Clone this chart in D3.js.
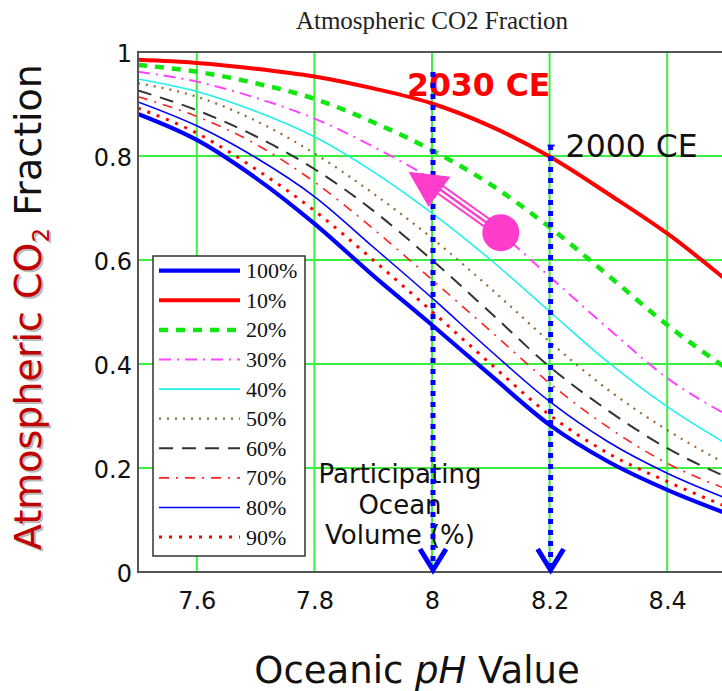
<!DOCTYPE html>
<html><head><meta charset="utf-8">
<script src="https://cdn.jsdelivr.net/npm/d3@7"></script>
<style>body{margin:0;background:#fff}</style>
</head><body><svg id="c" width="722" height="691"></svg>
<script>
// ---- data ----
const pH = [7.5, 7.6, 7.7, 7.8, 7.9, 8.0, 8.1, 8.2, 8.3, 8.4, 8.5];
const v100 = [0.881, 0.831, 0.758, 0.670, 0.570, 0.475, 0.378, 0.283, 0.212, 0.158, 0.113];
const v10  = [0.985, 0.979, 0.968, 0.953, 0.930, 0.901, 0.857, 0.799, 0.727, 0.651, 0.562];
const v20  = [0.975, 0.962, 0.940, 0.910, 0.865, 0.811, 0.745, 0.663, 0.570, 0.475, 0.392];
const v30  = [0.962, 0.943, 0.912, 0.872, 0.818, 0.754, 0.668, 0.568, 0.468, 0.373, 0.303];
const v40  = [0.948, 0.924, 0.886, 0.837, 0.770, 0.690, 0.600, 0.501, 0.403, 0.318, 0.247];
const v50  = [0.940, 0.914, 0.868, 0.805, 0.728, 0.642, 0.545, 0.443, 0.350, 0.273, 0.208];
const v60  = [0.926, 0.888, 0.838, 0.775, 0.695, 0.600, 0.498, 0.395, 0.310, 0.238, 0.183];
const v70  = [0.914, 0.876, 0.823, 0.750, 0.660, 0.562, 0.463, 0.363, 0.278, 0.209, 0.160];
const v80  = [0.904, 0.858, 0.797, 0.722, 0.625, 0.527, 0.425, 0.328, 0.250, 0.190, 0.142];
const v90  = [0.892, 0.844, 0.775, 0.695, 0.600, 0.501, 0.400, 0.302, 0.228, 0.174, 0.126];
const seriesNames = ["100%", "10%", "20%", "30%", "40%", "50%", "60%", "70%", "80%", "90%"];
const seriesValues = [v100, v10, v20, v30, v40, v50, v60, v70, v80, v90];
const xTicks = [7.6, 7.8, 8.0, 8.2, 8.4];
const yTicks = [0, 0.2, 0.4, 0.6, 0.8, 1];
const gridY = [0.2, 0.4, 0.6, 0.8];
// annotation anchors (data space)
const yearMarks = [
  {pH: 8.0, top: 0.9615, label: "2030 CE"},
  {pH: 8.2, top: 0.821, label: "2000 CE"}
];
const arrowFrom = [8.117, 0.6525];
const arrowTo = [7.994, 0.7025];
const noteLines = ["Participating", "Ocean", "Volume (%)"];

// ---- styles ----
const styles = {
  "100%": {c: "#0000ff", w: 4.2, d: null},
  "10%":  {c: "#ff0000", w: 4, d: null},
  "20%":  {c: "#11e611", w: 4.5, d: "9,8"},
  "30%":  {c: "#ff44ff", w: 2, d: "12,6,2,6"},
  "40%":  {c: "#22eeee", w: 1.6, d: null},
  "50%":  {c: "#996633", w: 2.2, d: "2,6"},
  "60%":  {c: "#333333", w: 2, d: "14,9"},
  "70%":  {c: "#ff2222", w: 1.6, d: "10,7,2,7"},
  "80%":  {c: "#0000ff", w: 1.6, d: null},
  "90%":  {c: "#ff0000", w: 3, d: "3,7"}
};

const svg = d3.select("#c");
const L = 138, T = 52, B = 572, R = 726;
const x = d3.scaleLinear([7.5, 8.5], [L, R]);
const y = d3.scaleLinear([0, 1], [B, T]);
const sans = "'DejaVu Sans', Verdana, sans-serif";
const serif = "'Liberation Serif', 'Times New Roman', serif";

// title
svg.append("text").attr("x", 432).attr("y", 29).attr("text-anchor", "middle")
  .attr("font-family", serif).attr("font-size", 25).attr("fill", "#222")
  .text("Atmospheric CO2 Fraction");

// clip
svg.append("defs").append("clipPath").attr("id", "clip")
  .append("rect").attr("x", L).attr("y", T).attr("width", R - L).attr("height", B - T);

// grid
const grid = svg.append("g").attr("stroke", "#3df03d").attr("stroke-width", 2);
grid.selectAll("line.v").data(xTicks).join("line").attr("class", "v")
  .attr("x1", d => x(d)).attr("x2", d => x(d)).attr("y1", T).attr("y2", B);
grid.selectAll("line.h").data(gridY).join("line").attr("class", "h")
  .attr("x1", L).attr("x2", R).attr("y1", d => y(d)).attr("y2", d => y(d));

// curves
const line = d3.line().x(d => x(d[0])).y(d => y(d[1])).curve(d3.curveMonotoneX);
const cg = svg.append("g").attr("clip-path", "url(#clip)").attr("fill", "none");
const drawOrder = [9, 8, 7, 6, 5, 4, 3, 2, 1, 0];
drawOrder.forEach(i => {
  const s = styles[seriesNames[i]];
  cg.append("path").datum(pH.map((p, k) => [p, seriesValues[i][k]]))
    .attr("d", line).attr("stroke", s.c).attr("stroke-width", s.w)
    .attr("stroke-dasharray", s.d).attr("stroke-linecap", "butt");
});

// frame
const frame = svg.append("g").attr("stroke", "#555").attr("stroke-width", 2).attr("fill", "none");
frame.append("path").attr("d", `M${R},${T}H${L}V${B}H${R}`);

// axes
const xa = svg.append("g").attr("transform", `translate(0,${B})`)
  .call(d3.axisBottom(x).tickValues(xTicks).tickSize(0).tickPadding(20).tickFormat(d3.format("")));
xa.select(".domain").remove();
xa.selectAll("text").attr("font-family", sans).attr("font-size", 24).attr("fill", "#111");
const ya = svg.append("g").attr("transform", `translate(${L},0)`)
  .call(d3.axisLeft(y).tickValues(yTicks).tickSize(0).tickPadding(6).tickFormat(d3.format("")));
ya.select(".domain").remove();
ya.selectAll("text").attr("font-family", sans).attr("font-size", 24).attr("fill", "#111").attr("dy", "0.4em");

// axis titles
const xt = svg.append("text").attr("x", 417).attr("y", 683).attr("text-anchor", "middle")
  .attr("font-family", sans).attr("font-size", 37).attr("fill", "#111");
xt.append("tspan").text("Oceanic ");
xt.append("tspan").attr("font-style", "italic").text("pH");
xt.append("tspan").text(" Value");

function yTitle(g, shadow) {
  const t = g.append("text").attr("text-anchor", "middle")
    .attr("font-family", sans).attr("font-size", 38);
  const red = shadow ? "#777" : "#c00000";
  t.append("tspan").attr("fill", red).text("Atmospheric CO");
  t.append("tspan").attr("fill", red).attr("font-size", 23).attr("dy", 8).text("2");
  t.append("tspan").attr("fill", shadow ? "none" : "#111").attr("dy", -8).text(" Fraction");
  return t;
}
const ysh = svg.append("g").attr("transform", "translate(43,309) rotate(-90)").attr("opacity", 0.5);
yTitle(ysh, true);
const ytg = svg.append("g").attr("transform", "translate(41,307) rotate(-90)");
yTitle(ytg, false);

// legend
const lg = svg.append("g");
lg.append("rect").attr("x", 153).attr("y", 256).attr("width", 152).attr("height", 300)
  .attr("fill", "#fff").attr("stroke", "#333").attr("stroke-width", 1.5);
seriesNames.forEach((n, i) => {
  const s = styles[n];
  const cy = 270.7 + i * 29.6;
  lg.append("line").attr("x1", 159).attr("x2", 240).attr("y1", cy).attr("y2", cy)
    .attr("stroke", s.c).attr("stroke-width", s.w).attr("stroke-dasharray", s.d);
  lg.append("text").attr("x", 246).attr("y", cy + 7.5).attr("font-family", serif)
    .attr("font-size", 22).attr("fill", "#111").text(n);
});

// note text
const note = svg.append("text").attr("text-anchor", "middle").attr("font-family", sans)
  .attr("font-size", 26).attr("fill", "#111");
noteLines.forEach((t, i) => note.append("tspan").attr("x", 400).attr("y", 483 + i * 30.5).text(t));

// year labels
svg.append("text").attr("x", x(yearMarks[0].pH) - 25).attr("y", y(yearMarks[0].top) + 23.5)
  .attr("font-family", sans).attr("font-weight", "bold").attr("font-size", 31.5)
  .attr("fill", "#ff0000").text(yearMarks[0].label);
svg.append("text").attr("x", x(yearMarks[1].pH) + 16).attr("y", y(yearMarks[1].top) + 11.5)
  .attr("font-family", sans).attr("font-size", 31.5).attr("fill", "#111").text(yearMarks[1].label);

// dotted arrows
yearMarks.forEach(m => {
  const xx = x(m.pH) + 1;
  svg.append("line").attr("x1", xx).attr("x2", xx).attr("y1", y(m.top)).attr("y2", y(0) - 4)
    .attr("stroke", "#0000ff").attr("stroke-width", 5).attr("stroke-dasharray", "5,6");
  svg.append("path").attr("d", `M${xx - 13},${y(0) - 23}L${xx},${y(0) - 2}L${xx + 13},${y(0) - 23}`)
    .attr("fill", "none").attr("stroke", "#0000ff").attr("stroke-width", 5);
});
svg.append("line").attr("x1", x(8.2) - 2).attr("x2", x(8.2) + 5)
  .attr("y1", y(yearMarks[1].top) + 0.5).attr("y2", y(yearMarks[1].top) + 0.5)
  .attr("stroke", "#0000ff").attr("stroke-width", 2);

// pink arrow
const pink = "#ff3ccc";
const fx = x(arrowFrom[0]), fy = y(arrowFrom[1]);
const tx = x(arrowTo[0]), ty = y(arrowTo[1]);
const sx = tx + 12, sy = ty - 17;
const ag = svg.append("g");
ag.append("line").attr("x1", fx).attr("y1", fy).attr("x2", sx).attr("y2", sy)
  .attr("stroke", pink).attr("stroke-width", 11);
ag.append("line").attr("x1", fx).attr("y1", fy).attr("x2", sx - 2).attr("y2", sy - 1.4)
  .attr("stroke", "#fff").attr("stroke-width", 7);
ag.append("line").attr("x1", fx).attr("y1", fy).attr("x2", sx).attr("y2", sy)
  .attr("stroke", pink).attr("stroke-width", 2.4);
ag.append("path").attr("d", `M${tx},${ty}L${tx - 20},${ty - 35}L${tx + 22},${ty - 30}Z`).attr("fill", pink);
ag.append("circle").attr("cx", fx).attr("cy", fy).attr("r", 18.5).attr("fill", pink);
</script></body></html>
